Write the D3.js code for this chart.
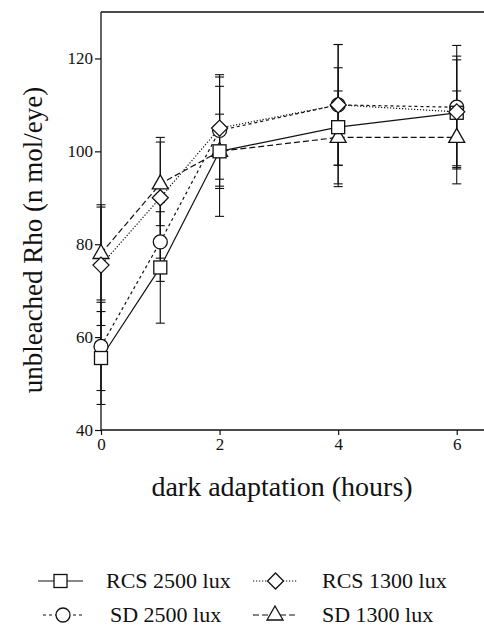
<!DOCTYPE html>
<html>
<head>
<meta charset="utf-8">
<script src="https://cdn.jsdelivr.net/npm/d3@7"></script>
<style>
body { margin: 0; background: #fff; }
</style>
</head>
<body>
<script>
// data
var hours = [0, 1, 2, 4, 6];
var rcs2500 = [55.5, 75, 100, 105.2, 108.3];
var rcs2500Err = [10, 12, 14, 12.8, 11.4];
var rcs1300 = [75.5, 90, 105, 110, 108.5];
var rcs1300Err = [13, 13, 11, 13, 12];
var sd2500 = [58, 80.5, 104.5, 110, 109.5];
var sd2500Err = [9.5, 8.5, 12, 13, 13.3];
var sd1300 = [78, 93, 100, 103, 103];
var sd1300Err = [10, 9, 8, 10, 10];
var yTicks = [40, 60, 80, 100, 120];
var xTicks = [0, 2, 4, 6];

var width = 484, height = 627;
var serif = "'Liberation Serif', 'Times New Roman', serif";
var svg = d3.select("body").append("svg")
  .attr("width", width)
  .attr("height", height);

var x = d3.scaleLinear().domain([0, 6.46]).range([101, 484]);
var y = d3.scaleLinear().domain([40, 130]).range([430, 12]);

var ink = "#111";

// series, drawn in this order (later ones on top)
var series = [
  {name: "SD 2500 lux", vals: sd2500, err: sd2500Err, shape: "circle", dash: "3,3"},
  {name: "SD 1300 lux", vals: sd1300, err: sd1300Err, shape: "triangle", dash: "6,3"},
  {name: "RCS 2500 lux", vals: rcs2500, err: rcs2500Err, shape: "square", dash: null},
  {name: "RCS 1300 lux", vals: rcs1300, err: rcs1300Err, shape: "diamond", dash: "1.2,1.8"}
];

// axes
var yAxis = svg.append("g")
  .attr("transform", "translate(101,0)")
  .call(d3.axisLeft(y).tickValues(yTicks).tickFormat(d3.format("d")).tickSize(6).tickPadding(2));
var xAxis = svg.append("g")
  .attr("transform", "translate(0,430)")
  .call(d3.axisBottom(x).tickValues(xTicks).tickFormat(d3.format("d")).tickSize(5).tickPadding(3));
[yAxis, xAxis].forEach(function(g) {
  g.attr("font-family", serif).attr("font-size", 17);
  g.select(".domain").attr("stroke", ink).attr("stroke-width", 1.3);
  g.selectAll(".tick line").attr("stroke", ink).attr("stroke-width", 1.2);
  g.selectAll(".tick text").attr("fill", ink);
});
yAxis.select(".domain").attr("d", "M0,430V12");
xAxis.select(".domain").attr("d", "M101,0H484");

// top frame line
svg.append("line")
  .attr("x1", 101).attr("x2", 484)
  .attr("y1", 12).attr("y2", 12)
  .attr("stroke", ink).attr("stroke-width", 1.3);

// error bars
series.forEach(function(s) {
  var g = svg.append("g").attr("stroke", ink).attr("stroke-width", 1.1);
  hours.forEach(function(h, i) {
    var cx = x(h), top = y(s.vals[i] + s.err[i]), bot = y(s.vals[i] - s.err[i]);
    g.append("line").attr("x1", cx).attr("x2", cx).attr("y1", top).attr("y2", bot);
    g.append("line").attr("x1", cx - 4.5).attr("x2", cx + 4.5).attr("y1", top).attr("y2", top);
    g.append("line").attr("x1", cx - 4.5).attr("x2", cx + 4.5).attr("y1", bot).attr("y2", bot);
  });
});

// connecting lines
var line = d3.line()
  .x(function(d) { return x(d[0]); })
  .y(function(d) { return y(d[1]); });
series.forEach(function(s) {
  svg.append("path")
    .datum(hours.map(function(h, i) { return [h, s.vals[i]]; }))
    .attr("d", line)
    .attr("fill", "none")
    .attr("stroke", ink)
    .attr("stroke-width", 1.2)
    .attr("stroke-dasharray", s.dash);
});

function marker(g, shape, cx, cy) {
  var m;
  if (shape == "circle") {
    m = g.append("circle").attr("cx", cx).attr("cy", cy).attr("r", 7);
  } else if (shape == "square") {
    m = g.append("rect").attr("x", cx - 6.5).attr("y", cy - 6.5).attr("width", 13).attr("height", 13);
  } else if (shape == "diamond") {
    m = g.append("path").attr("d", "M" + cx + "," + (cy - 8) + "L" + (cx + 8) + "," + cy +
      "L" + cx + "," + (cy + 8) + "L" + (cx - 8) + "," + cy + "Z");
  } else {
    m = g.append("path").attr("d", "M" + cx + "," + (cy - 9) + "L" + (cx + 8) + "," + (cy + 5) +
      "L" + (cx - 8) + "," + (cy + 5) + "Z");
  }
  m.attr("fill", "#fff").attr("stroke", ink).attr("stroke-width", 1.3);
}

series.forEach(function(s) {
  var g = svg.append("g");
  hours.forEach(function(h, i) { marker(g, s.shape, x(h), y(s.vals[i])); });
});

// axis titles
svg.append("text")
  .attr("x", 282).attr("y", 496)
  .attr("text-anchor", "middle")
  .attr("font-family", serif)
  .attr("font-size", 28)
  .attr("fill", ink)
  .text("dark adaptation (hours)");

svg.append("text")
  .attr("transform", "translate(42,240) rotate(-90)")
  .attr("text-anchor", "middle")
  .attr("font-family", serif)
  .attr("font-size", 27)
  .attr("fill", ink)
  .text("unbleached Rho (n mol/eye)");

// legend
var legendItems = [
  {s: series[2], lx: 38, rx: 83, tx: 106, ty: 588},
  {s: series[3], lx: 253, rx: 298, tx: 322, ty: 588},
  {s: series[0], lx: 43, rx: 83, tx: 110, ty: 622},
  {s: series[1], lx: 253, rx: 297, tx: 322, ty: 622}
];
legendItems.forEach(function(d) {
  var g = svg.append("g");
  var cy = d.ty - 7;
  g.append("line")
    .attr("x1", d.lx).attr("x2", d.rx)
    .attr("y1", cy).attr("y2", cy)
    .attr("stroke", ink).attr("stroke-width", 1.1)
    .attr("stroke-dasharray", d.s.dash);
  marker(g, d.s.shape, (d.lx + d.rx) / 2, cy);
  g.append("text")
    .attr("x", d.tx).attr("y", d.ty)
    .attr("font-family", serif)
    .attr("font-size", 22)
    .attr("fill", ink)
    .text(d.s.name);
});
</script>
</body>
</html>
